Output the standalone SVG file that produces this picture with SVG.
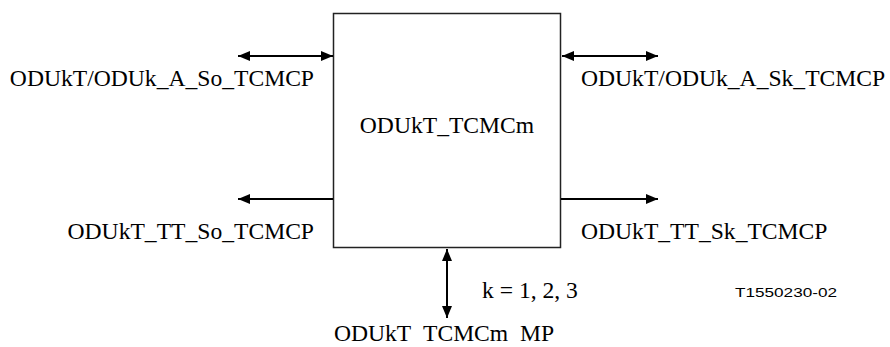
<svg xmlns="http://www.w3.org/2000/svg" width="890" height="347" viewBox="0 0 890 347">
<style>
.t{font-family:'Liberation Serif',serif;font-size:23.6px;fill:#000}
.s{font-family:'Liberation Sans',sans-serif;font-size:13px;fill:#000}
.c{stroke:#000;stroke-width:2;fill:none}
</style>
<defs>
<marker id="ah" viewBox="0 0 12 10" refX="12" refY="5" markerWidth="12" markerHeight="10" markerUnits="userSpaceOnUse" orient="auto-start-reverse">
<path d="M0,0 L12,5 L0,10 Z" fill="#000"/>
</marker>
<clipPath id="bc"><rect x="0" y="0" width="890" height="342.3"/></clipPath>
</defs>
<rect width="890" height="347" fill="#fff"/>
<g id="tcmc">
<rect x="333.5" y="13.5" width="227" height="234" fill="#fff" stroke="#222" stroke-width="1.5"/>
<text class="t" x="447" y="133" text-anchor="middle">ODUkT_TCMCm</text>
</g>
<g id="connectors">
<line class="c" x1="238" y1="56" x2="333" y2="56" marker-start="url(#ah)" marker-end="url(#ah)"/>
<line class="c" x1="562" y1="56" x2="658" y2="56" marker-start="url(#ah)" marker-end="url(#ah)"/>
<line class="c" x1="333" y1="199" x2="238" y2="199" marker-end="url(#ah)"/>
<line class="c" x1="561" y1="199" x2="658" y2="199" marker-end="url(#ah)"/>
<line class="c" x1="447" y1="249" x2="447" y2="318" marker-start="url(#ah)" marker-end="url(#ah)"/>
</g>
<g id="lbl-a-so"><text class="t" x="314" y="86" text-anchor="end">ODUkT/ODUk_A_So_TCMCP</text></g>
<g id="lbl-a-sk"><text class="t" x="581" y="86">ODUkT/ODUk_A_Sk_TCMCP</text></g>
<g id="lbl-tt-so"><text class="t" x="314" y="239" text-anchor="end">ODUkT_TT_So_TCMCP</text></g>
<g id="lbl-tt-sk"><text class="t" x="581" y="239">ODUkT_TT_Sk_TCMCP</text></g>
<g id="lbl-k"><text class="t" x="482" y="298">k = 1, 2, 3</text></g>
<g id="lbl-mp"><text class="t" x="444" y="341" text-anchor="middle" clip-path="url(#bc)">ODUkT_TCMCm_MP</text></g>
<text class="s" x="735" y="297" textLength="102" lengthAdjust="spacingAndGlyphs">T1550230-02</text>
</svg>
